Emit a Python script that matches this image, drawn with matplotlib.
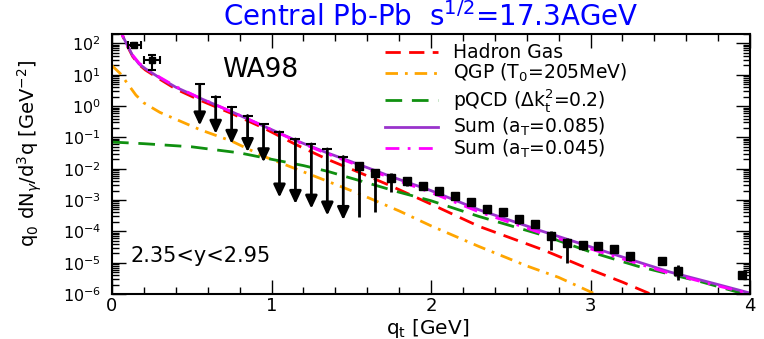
import numpy as np
import matplotlib
matplotlib.use('Agg')
import matplotlib.pyplot as plt
from matplotlib.ticker import LogLocator, MultipleLocator, NullFormatter, LogFormatterMathtext

plt.rcParams['font.family'] = ['DejaVu Sans']

# theory curves
q_sum = [0.04, 0.07, 0.10, 0.13, 0.17, 0.21, 0.30, 0.40, 0.55, 0.75, 0.95, 1.15,
         1.35, 1.55, 1.75, 2.0, 2.3, 2.7, 3.1, 3.5, 3.8, 4.0]
sum085 = [400, 160, 80, 40, 22, 15.5, 7.9, 4.0, 1.8, 0.66, 0.23, 0.081,
          0.032, 0.0135, 5.6e-3, 2.0e-3, 4.9e-4, 1.0e-4, 2.2e-5, 5.0e-6, 2.0e-6, 1.07e-6]
sum045 = [400, 160, 80, 42, 23.5, 16.2, 8.3, 4.2, 1.82, 0.66, 0.23, 0.078,
          0.030, 0.0123, 5.0e-3, 1.74e-3, 4.2e-4, 8.5e-5, 1.9e-5, 4.5e-6, 1.8e-6, 1.02e-6]

q_hg = [0.04, 0.07, 0.10, 0.13, 0.17, 0.21, 0.30, 0.40, 0.55, 0.75, 0.95, 1.15,
        1.35, 1.55, 1.75, 2.0, 2.3, 2.7, 3.0, 3.2, 3.4]
hadron_gas = [400, 160, 76, 38, 21, 14.1, 7.2, 3.5, 1.55, 0.58, 0.20, 0.060,
              0.020, 7.6e-3, 2.8e-3, 7.4e-4, 1.45e-4, 2.6e-5, 6.0e-6, 2.4e-6, 8.9e-7]

q_qgp = [0.0, 0.05, 0.1, 0.15, 0.2, 0.3, 0.4, 0.55, 0.75, 0.95, 1.15, 1.35, 1.55,
         1.8, 2.0, 2.3, 2.6, 2.8, 3.0, 3.05]
qgp = [19.5, 11.2, 5.0, 2.24, 1.26, 0.63, 0.38, 0.178, 0.076, 0.025, 0.010, 4.0e-3, 1.58e-3,
       4.5e-4, 1.5e-4, 3.3e-5, 7.9e-6, 3.4e-6, 1.17e-6, 8.9e-7]

q_pqcd = [0, 0.2, 0.5, 0.8, 1.0, 1.2, 1.35, 1.55, 1.8, 2.0, 2.3, 2.7, 3.0, 3.3, 3.7, 4.0]
pqcd = [0.071, 0.063, 0.050, 0.032, 0.020, 0.0126, 8.3e-3, 4.2e-3, 1.78e-3, 9.5e-4,
        3.0e-4, 7.6e-5, 2.2e-5, 7.6e-6, 2.4e-6, 8.9e-7]

# WA98 data
q_low = [0.14, 0.25]
y_low = [92, 30]
y_low_lo = [82, 14.4]
y_low_hi = [104, 44]
xerr_low = [0.04, 0.05]

q_data = [1.55, 1.65, 1.75, 1.85, 1.95, 2.05, 2.15, 2.25, 2.35, 2.45, 2.55, 2.65,
          2.75, 2.85, 2.95, 3.05, 3.15, 3.25, 3.45, 3.55, 3.95]
y_data = [0.0126, 7.1e-3, 5.0e-3, 4.1e-3, 2.9e-3, 1.95e-3, 1.38e-3, 8.9e-4, 5.1e-4, 4.0e-4,
          2.4e-4, 1.78e-4, 7.1e-5, 4.2e-5, 3.7e-5, 3.5e-5, 2.7e-5, 1.58e-5, 1.15e-5, 5.5e-6, 4.1e-6]
y_hi = [0.0158, 8.9e-3, 7.1e-3, 5.0e-3, 3.5e-3, 2.3e-3, 1.58e-3, 1.05e-3, 6.3e-4, 4.7e-4,
        2.8e-4, 2.2e-4, 1.0e-4, 6.0e-5, 4.5e-5, 4.2e-5, 3.2e-5, 2.0e-5, 1.3e-5, 8.5e-6, 4.7e-6]
y_lo = [2.95e-4, 4.3e-4, 1.78e-3, 2.8e-3, 2.1e-3, 1.41e-3, 1.12e-3, 7.1e-4, 3.8e-4, 3.2e-4,
        1.78e-4, 1.26e-4, 2.5e-5, 9.5e-6, 2.5e-5, 2.8e-5, 2.2e-5, 1.12e-5, 1.0e-5, 2.7e-6, 3.5e-6]

# upper limits (arrows)
q_ul = [0.55, 0.65, 0.75, 0.85, 0.95, 1.05, 1.15, 1.25, 1.35, 1.45]
ul_top = [4.9, 2.0, 0.92, 0.50, 0.26, 0.15, 0.089, 0.062, 0.043, 0.0245]
ul_tip = [0.24, 0.13, 0.062, 0.034, 0.016, 1.2e-3, 7.5e-4, 5.3e-4, 3.2e-4, 2.3e-4]

legend_labels = ['Hadron Gas', 'QGP (T$_\\mathrm{0}$=205MeV)', 'pQCD ($\\Delta$k$_\\mathrm{t}^\\mathrm{2}$=0.2)',
                 'Sum (a$_\\mathrm{T}$=0.085)', 'Sum (a$_\\mathrm{T}$=0.045)']

styles = [
    dict(color='#ff0000', lw=2, dashes=(5.5, 3)),
    dict(color='#ffa500', lw=2, dashes=(4.5, 2.5, 1, 2.5)),
    dict(color='#109010', lw=2, dashes=(6, 3.5)),
    dict(color='#9933cc', lw=2, ls='-'),
    dict(color='#ff00ff', lw=2, dashes=(5, 3, 1, 3)),
]

fig = plt.figure(figsize=(7.64, 3.39), dpi=100)
ax = fig.add_axes([112 / 764, 1 - 294 / 339, 638 / 764, 260 / 339])

ax.plot(q_hg, hadron_gas, **styles[0])
ax.plot(q_qgp, qgp, **styles[1])
ax.plot(q_pqcd, pqcd, **styles[2])
ax.plot(q_sum, sum085, **styles[3])
ax.plot(q_sum, sum045, **styles[4])

# data points
yl = np.array(y_low)
ax.errorbar(q_low, y_low, xerr=xerr_low,
            yerr=[yl - np.array(y_low_lo), np.array(y_low_hi) - yl],
            fmt='s', color='k', ms=5, lw=1.5, capsize=3, capthick=1.5)
yd = np.array(y_data)
ax.errorbar(q_data, y_data, yerr=[yd - np.array(y_lo), np.array(y_hi) - yd],
            fmt='s', color='k', ms=5.5, lw=2, capsize=0)

for q, top, tip in zip(q_ul, ul_top, ul_tip):
    ax.annotate('', xy=(q, tip), xytext=(q, top),
                arrowprops=dict(arrowstyle='-|>,head_length=0.75,head_width=0.35',
                                lw=2, color='k', mutation_scale=10,
                                shrinkA=0, shrinkB=0))
ax.plot(q_ul, ul_top, ls='none', marker='_', ms=7, mew=1.5, color='k')

ax.set_yscale('log')
ax.set_xlim(0, 4)
ax.set_ylim(1e-6, 200)

ax.xaxis.set_major_locator(MultipleLocator(1))
ax.xaxis.set_minor_locator(MultipleLocator(0.2))
ax.yaxis.set_major_locator(LogLocator(base=10, numticks=20))
ax.yaxis.set_minor_locator(LogLocator(base=10, subs=np.arange(2, 10), numticks=20))
ax.yaxis.set_major_formatter(LogFormatterMathtext())
ax.yaxis.set_minor_formatter(NullFormatter())
ax.tick_params(which='both', direction='in', top=True, right=True, width=1)
ax.tick_params(which='major', length=10)
ax.tick_params(which='minor', length=5)
ax.tick_params(axis='y', which='major', labelsize=11.5, pad=8)
ax.tick_params(axis='x', which='major', labelsize=13, pad=2)
for sp in ax.spines.values():
    sp.set_linewidth(1.5)

# legend drawn by hand
leg_y = [51.7, 72.5, 100, 126.7, 148]
for yp, lab, st in zip(leg_y, legend_labels, styles):
    ya = (294 - yp) / 260
    ax.plot([0.428, 0.511], [ya, ya], transform=ax.transAxes, **st)
    ax.text(0.5345, ya - 6.5 / 260, lab, transform=ax.transAxes,
            fontsize=13.5, va='baseline', ha='left')

ax.text(0.93, 13.8, 'WA98', fontsize=19, ha='center', va='center')
ax.text(0.113, 1.66e-5, '2.35<y<2.95', fontsize=15, ha='left', va='center')

fig.text(431 / 764, 1 - 17 / 339, 'Central Pb-Pb  s$^\\mathrm{1/2}$=17.3AGeV',
         color='#0000ff', fontsize=20, ha='center', va='center')
fig.text(428 / 764, 5.5 / 339, 'q$_\\mathrm{t}$ [GeV]', fontsize=14.5,
         ha='center', va='baseline')
fig.text(30 / 764, 1 - 153 / 339, 'q$_\\mathrm{0}$ dN$_\\gamma$/d$^\\mathrm{3}$q [GeV$^\\mathrm{-2}$]',
         fontsize=14, rotation=90, ha='center', va='center')

fig.savefig('out.png', dpi=100)
